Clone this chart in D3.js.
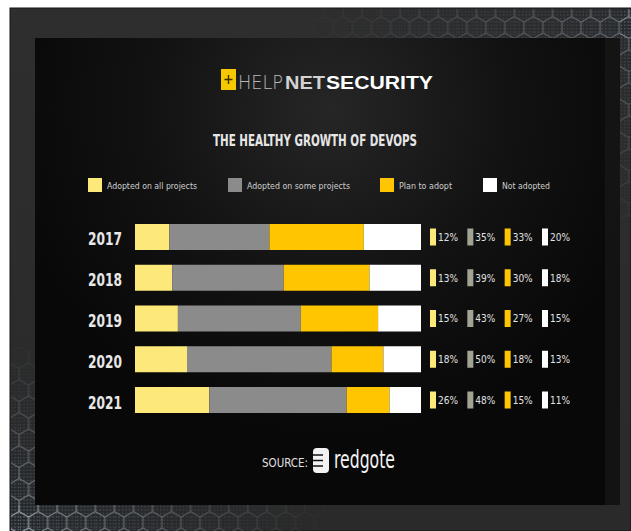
<!DOCTYPE html>
<html>
<head>
<meta charset="utf-8">
<script src="https://cdn.jsdelivr.net/npm/d3@7"></script>
<style>
  html, body { margin: 0; padding: 0; background: #ffffff; }
  svg { display: block; }
</style>
</head>
<body>
<svg id="chart" width="631" height="531"></svg>
<script>
// Survey years and answer shares (percent)
const years = ["2017", "2018", "2019", "2020", "2021"];
const adoptedAll = [12, 13, 15, 18, 26];
const adoptedSome = [35, 39, 43, 50, 48];
const planToAdopt = [33, 30, 27, 18, 15];
const notAdopted = [20, 18, 15, 13, 11];

const seriesKeys = ["all", "some", "plan", "not"];
const seriesNames = ["Adopted on all projects", "Adopted on some projects", "Plan to adopt", "Not adopted"];
const seriesColors = ["#fde97a", "#8b8b8b", "#fec500", "#ffffff"];

const rows = years.map((y, i) => ({
  year: y,
  all: adoptedAll[i],
  some: adoptedSome[i],
  plan: planToAdopt[i],
  not: notAdopted[i]
}));

const svg = d3.select("#chart");
const defs = svg.append("defs");
const condensed = "'DejaVu Sans Condensed', 'DejaVu Sans', sans-serif";

// ---- frame and panel backgrounds ----
const frameGrad = defs.append("linearGradient").attr("id", "frameGrad")
  .attr("x1", 0).attr("y1", 0).attr("x2", 0).attr("y2", 1);
frameGrad.append("stop").attr("offset", 0).attr("stop-color", "#2e2e2e");
frameGrad.append("stop").attr("offset", 1).attr("stop-color", "#2a2a2a");

const panelGrad = defs.append("radialGradient").attr("id", "panelGrad")
  .attr("gradientUnits", "userSpaceOnUse")
  .attr("cx", 330).attr("cy", 110).attr("r", 330);
panelGrad.append("stop").attr("offset", 0).attr("stop-color", "#262626");
panelGrad.append("stop").attr("offset", 0.55).attr("stop-color", "#121212");
panelGrad.append("stop").attr("offset", 1).attr("stop-color", "#080808");

// hexagon mesh texture
const hexR = 11, hexW = Math.sqrt(3) * hexR;
const hexPat = defs.append("pattern").attr("id", "hexPat")
  .attr("patternUnits", "userSpaceOnUse")
  .attr("width", hexW).attr("height", 3 * hexR);
hexPat.append("rect").attr("width", hexW).attr("height", 3 * hexR).attr("fill", "#262b30");
for (let dx = 1.5; dx < hexW; dx += 3.4) {
  for (let dy = 1.5; dy < 3 * hexR; dy += 3.4) {
    hexPat.append("circle").attr("cx", dx).attr("cy", dy).attr("r", 0.8).attr("fill", "#616a73");
  }
}
hexPat.append("path")
  .attr("d", `M${hexW / 2},0 L${hexW},${hexR / 2} L${hexW},${1.5 * hexR} L${hexW / 2},${2 * hexR} L0,${1.5 * hexR} L0,${hexR / 2} Z M${hexW / 2},${2 * hexR} L${hexW / 2},${3 * hexR}`)
  .attr("fill", "none").attr("stroke", "#9aa2aa").attr("stroke-width", 1.2);

function fadeMask(id, x1, y1, x2, y2) {
  const g = defs.append("linearGradient").attr("id", id + "G")
    .attr("gradientUnits", "userSpaceOnUse")
    .attr("x1", x1).attr("y1", y1).attr("x2", x2).attr("y2", y2);
  g.append("stop").attr("offset", 0).attr("stop-color", "#fff").attr("stop-opacity", 0.95);
  g.append("stop").attr("offset", 1).attr("stop-color", "#fff").attr("stop-opacity", 0);
  const m = defs.append("mask").attr("id", id).attr("maskUnits", "userSpaceOnUse")
    .attr("x", 0).attr("y", 0).attr("width", 631).attr("height", 531);
  m.append("rect").attr("width", 631).attr("height", 531).attr("fill", `url(#${id}G)`);
}
fadeMask("fadeTop", 631, 20, 300, 20);
fadeMask("fadeRight", 625, 20, 625, 240);
fadeMask("fadeLeft", 20, 531, 20, 340);
fadeMask("fadeBottom", 10, 520, 330, 520);

svg.append("rect").attr("x", 10).attr("y", 8).attr("width", 621).attr("height", 523)
  .attr("fill", "url(#frameGrad)").attr("stroke", "#151515").attr("stroke-width", 1);

svg.append("rect").attr("x", 260).attr("y", 9).attr("width", 371).attr("height", 29)
  .attr("fill", "url(#hexPat)").attr("mask", "url(#fadeTop)").attr("opacity", 0.55);
svg.append("rect").attr("x", 620).attr("y", 9).attr("width", 11).attr("height", 240)
  .attr("fill", "url(#hexPat)").attr("mask", "url(#fadeRight)").attr("opacity", 0.55);
svg.append("rect").attr("x", 11).attr("y", 330).attr("width", 24).attr("height", 201)
  .attr("fill", "url(#hexPat)").attr("mask", "url(#fadeLeft)").attr("opacity", 0.8);
svg.append("rect").attr("x", 11).attr("y", 505).attr("width", 340).attr("height", 26)
  .attr("fill", "url(#hexPat)").attr("mask", "url(#fadeBottom)").attr("opacity", 0.85);

svg.append("rect").attr("x", 35).attr("y", 38).attr("width", 585).attr("height", 467)
  .attr("fill", "url(#panelGrad)");
svg.append("rect").attr("x", 605).attr("y", 38).attr("width", 15).attr("height", 467)
  .attr("fill", "#1a1a1a").attr("opacity", 0.6);

// ---- brand header ----
svg.append("rect").attr("x", 221).attr("y", 69).attr("width", 15).attr("height", 21)
  .attr("fill", "#f5c800");
svg.append("path").attr("d", "M228.5,75 V84 M224.5,79.5 H232.5")
  .attr("stroke", "#3a3000").attr("stroke-width", 1.4);
svg.append("text").attr("x", 238).attr("y", 89).text("HELP")
  .attr("font-family", "'DejaVu Sans', sans-serif").attr("font-weight", 200)
  .attr("font-size", 19).attr("fill", "#b8b8b8")
  .attr("textLength", 45).attr("lengthAdjust", "spacingAndGlyphs");
svg.append("text").attr("x", 285).attr("y", 89).text("NET")
  .attr("font-family", "'Liberation Sans', Arial, sans-serif").attr("font-weight", "bold")
  .attr("font-size", 19).attr("fill", "#d2d2d2")
  .attr("textLength", 40).attr("lengthAdjust", "spacingAndGlyphs");
svg.append("text").attr("x", 326).attr("y", 89).text("SECURITY")
  .attr("font-family", "'Liberation Sans', Arial, sans-serif").attr("font-weight", "bold")
  .attr("font-size", 19).attr("fill", "#ffffff")
  .attr("textLength", 107).attr("lengthAdjust", "spacingAndGlyphs");

svg.append("text").attr("x", 213).attr("y", 146).text("THE HEALTHY GROWTH OF DEVOPS")
  .attr("font-family", condensed).attr("font-weight", "bold")
  .attr("font-size", 15).attr("fill", "#e6e6e6")
  .attr("textLength", 204).attr("lengthAdjust", "spacingAndGlyphs");

// ---- legend ----
const legendX = [88, 228, 380, 483];
const legendW = [90, 103, 53, 48];
const legend = svg.append("g");
seriesKeys.forEach((k, i) => {
  legend.append("rect").attr("x", legendX[i]).attr("y", 178).attr("width", 14).attr("height", 14)
    .attr("fill", seriesColors[i]);
  legend.append("text").attr("x", legendX[i] + 19).attr("y", 188.5).text(seriesNames[i])
    .attr("font-family", condensed).attr("font-size", 9.5).attr("fill", "#cfcfcf")
    .attr("textLength", legendW[i]).attr("lengthAdjust", "spacingAndGlyphs");
});

// ---- stacked bars ----
const x = d3.scaleLinear().domain([0, 1]).range([135, 421]);
const y = d3.scaleBand().domain(years).range([224, 413]).paddingInner(0.362);
const color = d3.scaleOrdinal().domain(seriesKeys).range(seriesColors);

const stacked = d3.stack().keys(seriesKeys).offset(d3.stackOffsetExpand)(rows);

svg.append("g").selectAll("g")
  .data(stacked)
  .join("g")
  .attr("fill", d => color(d.key))
  .selectAll("rect")
  .data(d => d)
  .join("rect")
  .attr("x", d => x(d[0]))
  .attr("y", d => y(d.data.year))
  .attr("width", d => x(d[1]) - x(d[0]))
  .attr("height", y.bandwidth());

// year axis
const yAxis = svg.append("g").attr("transform", "translate(135,0)")
  .call(d3.axisLeft(y).tickSize(0).tickPadding(13));
yAxis.select(".domain").remove();
yAxis.selectAll("text")
  .attr("font-family", condensed).attr("font-weight", "bold")
  .attr("font-size", 17).attr("fill", "#e8e8e8").attr("dy", "0.5em")
  .attr("textLength", 34).attr("lengthAdjust", "spacingAndGlyphs");

// ---- percentage labels ----
const labelX = d3.scalePoint().domain(seriesKeys).range([430, 542]);
const labels = svg.append("g");
rows.forEach(r => {
  const cy = y(r.year) + y.bandwidth() / 2;
  seriesKeys.forEach(k => {
    labels.append("rect").attr("x", labelX(k)).attr("y", cy - 8.5)
      .attr("width", 6).attr("height", 17).attr("fill", k === "some" ? "#a3a394" : color(k));
    labels.append("text").attr("x", labelX(k) + 8).attr("y", cy).attr("dy", "0.36em")
      .text(r[k] + "%")
      .attr("font-family", condensed)
      .attr("font-size", 10.5).attr("fill", "#e2e2e2")
      .attr("textLength", 20).attr("lengthAdjust", "spacingAndGlyphs");
  });
});

// ---- source ----
svg.append("text").attr("x", 262).attr("y", 467).text("SOURCE:")
  .attr("font-family", condensed).attr("font-size", 13).attr("fill", "#e0e0e0")
  .attr("textLength", 46).attr("lengthAdjust", "spacingAndGlyphs");
svg.append("rect").attr("x", 313).attr("y", 448).attr("width", 16).attr("height", 25)
  .attr("rx", 4).attr("fill", "#f2f2f2");
svg.append("path").attr("d", "M313,455 H323 M313,460.5 H323 M313,466 H323")
  .attr("stroke", "#111").attr("stroke-width", 1.6);
svg.append("text").attr("x", 334).attr("y", 468).text("redgote")
  .attr("font-family", condensed).attr("font-size", 24).attr("fill", "#f4f4f4")
  .attr("textLength", 61).attr("lengthAdjust", "spacingAndGlyphs");
</script>
</body>
</html>
